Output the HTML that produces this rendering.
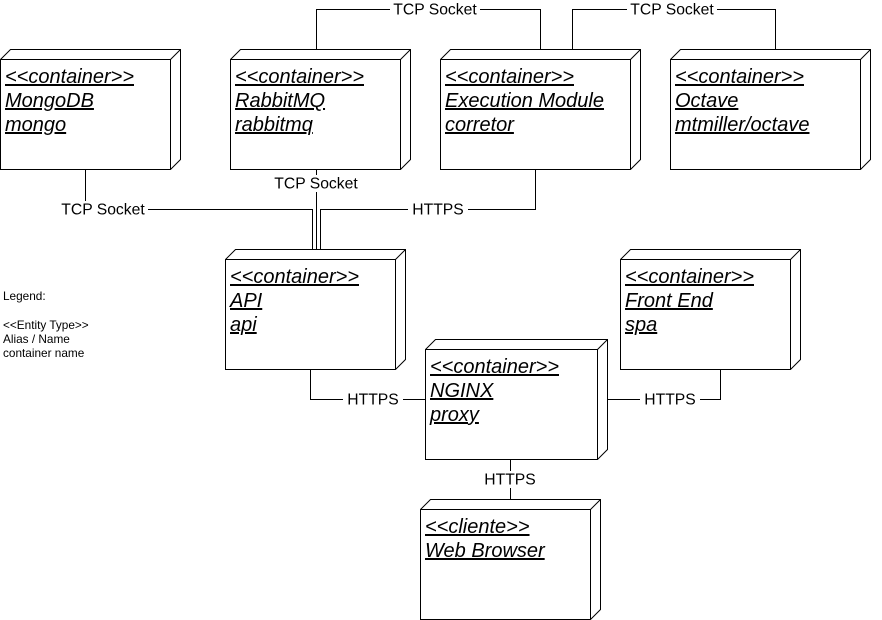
<!DOCTYPE html><html><head><style>body{margin:0;background:#fff}svg{display:block}</style></head><body>
<svg width="882" height="620" xmlns="http://www.w3.org/2000/svg" font-family="Liberation Sans, Arial, sans-serif">
<g fill="none" stroke="#000" stroke-width="1">
<path d="M316.5 49V9.5H540.5V49"/><path d="M572.5 49V9.5H775.5V49"/>
<path d="M85.5 169V209.5H312.5V249"/><path d="M316.5 169V249"/><path d="M535.5 169V209.5H320.5V249"/>
<path d="M310.5 369V399.5H425"/><path d="M720.5 369V399.5H597"/><path d="M510.5 459V509"/>
</g>
<g font-size="15.7" text-anchor="middle">
<rect x="390" y="1" width="90" height="17" fill="#fff"/><text x="435" y="14.5">TCP Socket</text>
<rect x="627" y="1" width="90" height="17" fill="#fff"/><text x="672" y="14.5">TCP Socket</text>
<rect x="58" y="201" width="90" height="17" fill="#fff"/><text x="103" y="214.5">TCP Socket</text>
<rect x="271" y="175" width="90" height="17" fill="#fff"/><text x="316" y="188.5">TCP Socket</text>
<rect x="408" y="201" width="60" height="17" fill="#fff"/><text x="438" y="214.5">HTTPS</text>
<rect x="343" y="391" width="60" height="17" fill="#fff"/><text x="373" y="404.5">HTTPS</text>
<rect x="640" y="391" width="60" height="17" fill="#fff"/><text x="670" y="404.5">HTTPS</text>
<rect x="480" y="471" width="60" height="17" fill="#fff"/><text x="510" y="484.5">HTTPS</text>
</g>
<g fill="#fff" stroke="#000">
<path d="M0.5 59.5L10.5 49.5H180.5V159.5L170.5 169.5H0.5ZM170.5 59.5L180.5 49.5M0.5 59.5H170.5V169.5"/>
<path d="M230.5 59.5L240.5 49.5H410.5V159.5L400.5 169.5H230.5ZM400.5 59.5L410.5 49.5M230.5 59.5H400.5V169.5"/>
<path d="M440.5 59.5L450.5 49.5H640.5V159.5L630.5 169.5H440.5ZM630.5 59.5L640.5 49.5M440.5 59.5H630.5V169.5"/>
<path d="M670.5 59.5L680.5 49.5H870.5V159.5L860.5 169.5H670.5ZM860.5 59.5L870.5 49.5M670.5 59.5H860.5V169.5"/>
<path d="M225.5 259.5L235.5 249.5H405.5V359.5L395.5 369.5H225.5ZM395.5 259.5L405.5 249.5M225.5 259.5H395.5V369.5"/>
<path d="M620.5 259.5L630.5 249.5H800.5V359.5L790.5 369.5H620.5ZM790.5 259.5L800.5 249.5M620.5 259.5H790.5V369.5"/>
<path d="M425.5 349.5L435.5 339.5H607.5V449.5L597.5 459.5H425.5ZM597.5 349.5L607.5 339.5M425.5 349.5H597.5V459.5"/>
<path d="M420.5 509.5L430.5 499.5H600.5V609.5L590.5 619.5H420.5ZM590.5 509.5L600.5 499.5M420.5 509.5H590.5V619.5"/>
</g>
<g font-size="20" font-style="italic" text-decoration="underline">
<text x="5" y="83">&lt;&lt;container&gt;&gt;</text><text x="5" y="107">MongoDB</text><text x="5" y="131">mongo</text>
<text x="235" y="83">&lt;&lt;container&gt;&gt;</text><text x="235" y="107">RabbitMQ</text><text x="235" y="131">rabbitmq</text>
<text x="445" y="83">&lt;&lt;container&gt;&gt;</text><text x="445" y="107">Execution Module</text><text x="445" y="131">corretor</text>
<text x="675" y="83">&lt;&lt;container&gt;&gt;</text><text x="675" y="107">Octave</text><text x="675" y="131">mtmiller/octave</text>
<text x="230" y="283">&lt;&lt;container&gt;&gt;</text><text x="230" y="307">API</text><text x="230" y="331">api</text>
<text x="625" y="283">&lt;&lt;container&gt;&gt;</text><text x="625" y="307">Front End</text><text x="625" y="331">spa</text>
<text x="430" y="373">&lt;&lt;container&gt;&gt;</text><text x="430" y="397">NGINX</text><text x="430" y="421">proxy</text>
<text x="425" y="533">&lt;&lt;cliente&gt;&gt;</text><text x="425" y="557">Web Browser</text>
</g>
<g font-size="11.8">
<text x="3" y="300">Legend:</text><text x="3" y="329">&lt;&lt;Entity Type&gt;&gt;</text><text x="3" y="343">Alias / Name</text><text x="3" y="357">container name</text>
</g>
</svg></body></html>
